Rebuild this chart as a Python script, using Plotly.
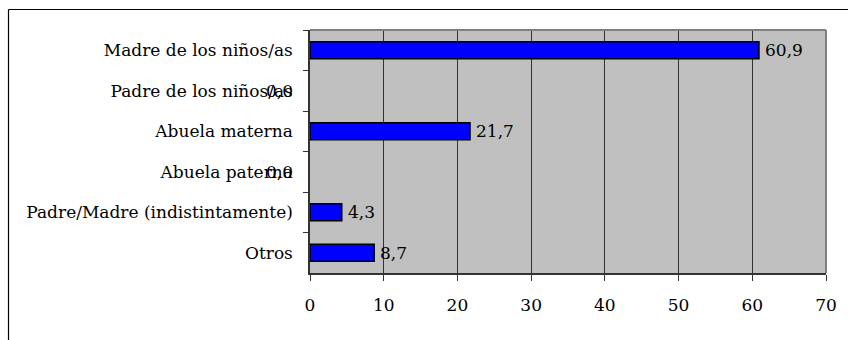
import plotly.graph_objects as go

# Who looks after the children (%)
categorias = [
    "Madre de los niños/as",
    "Padre de los niños/as",
    "Abuela materna",
    "Abuela paterna",
    "Padre/Madre (indistintamente)",
    "Otros",
]
porcentajes = [60.9, 0.0, 21.7, 0.0, 4.3, 8.7]
ticks_x = [0, 10, 20, 30, 40, 50, 60, 70]

W, H = 848, 340
ML, MR, MT, MB = 310, 22, 30, 67
FONT = "DejaVu Serif"
FS = 17

fig = go.Figure(
    go.Bar(
        x=porcentajes,
        y=categorias,
        orientation="h",
        width=0.42,
        marker=dict(color="#0000FF",
                    line=dict(color="#000000",
                              width=[1.6 if v > 0 else 0 for v in porcentajes])),
        hoverinfo="x+y",
    )
)

# value labels: right of each bar; zero values end up left of the axis
for cat, val in zip(categorias, porcentajes):
    txt = f"{val:.1f}".replace(".", ",")
    if val > 0:
        fig.add_annotation(x=val, y=cat, text=txt, showarrow=False,
                           xanchor="left", xshift=4, yshift=0,
                           font=dict(family=FONT, size=FS, color="#000"))
    else:
        fig.add_annotation(x=val, y=cat, text=txt, showarrow=False,
                           xanchor="right", xshift=-15, yshift=0,
                           font=dict(family=FONT, size=FS, color="#000"))

# outer chart frame (left and top edges)
pw = W - ML - MR
ph = H - MT - MB
def px_x(p):
    return (p - ML) / pw
def px_y(p):
    return 1 - (p - MT) / ph
fig.add_shape(type="line", xref="paper", yref="paper",
              x0=px_x(8.5), x1=px_x(900), y0=px_y(9.5), y1=px_y(9.5),
              line=dict(color="#000", width=1.2))
fig.add_shape(type="line", xref="paper", yref="paper",
              x0=px_x(8.5), x1=px_x(8.5), y0=px_y(9.5), y1=px_y(400),
              line=dict(color="#000", width=1.2))
# plot-area border: grey on top and right
fig.add_shape(type="line", xref="paper", yref="paper",
              x0=0, x1=1, y0=1, y1=1, line=dict(color="#808080", width=2))
fig.add_shape(type="line", xref="paper", yref="paper",
              x0=1, x1=1, y0=0, y1=1, line=dict(color="#808080", width=2))

fig.update_layout(
    width=W, height=H,
    margin=dict(l=ML, r=MR, t=MT, b=MB, autoexpand=False),
    paper_bgcolor="#FFFFFF",
    plot_bgcolor="#C0C0C0",
    showlegend=False,
    font=dict(family=FONT, size=FS, color="#000"),
    xaxis=dict(
        range=[0, 70], tickvals=ticks_x, ticktext=[str(t) for t in ticks_x],
        showgrid=True, gridcolor="#333333", gridwidth=1,
        zeroline=False, showline=True, linecolor="#333333", linewidth=1.5,
        ticks="outside", ticklen=6, tickcolor="#333333", tickwidth=1,
        ticklabelstandoff=10, automargin=False,
        tickfont=dict(family=FONT, size=FS, color="#000"),
        fixedrange=True,
    ),
    yaxis=dict(
        categoryorder="array", categoryarray=categorias,
        autorange="reversed",
        showgrid=False, zeroline=False,
        showline=True, linecolor="#333333", linewidth=1.5,
        ticks="outside", ticklen=5, tickcolor="#333333", tickwidth=1,
        tickson="boundaries", ticklabelstandoff=12, automargin=False,
        tickfont=dict(family=FONT, size=FS, color="#000"),
        fixedrange=True,
    ),
)

fig.write_html("out.html")
